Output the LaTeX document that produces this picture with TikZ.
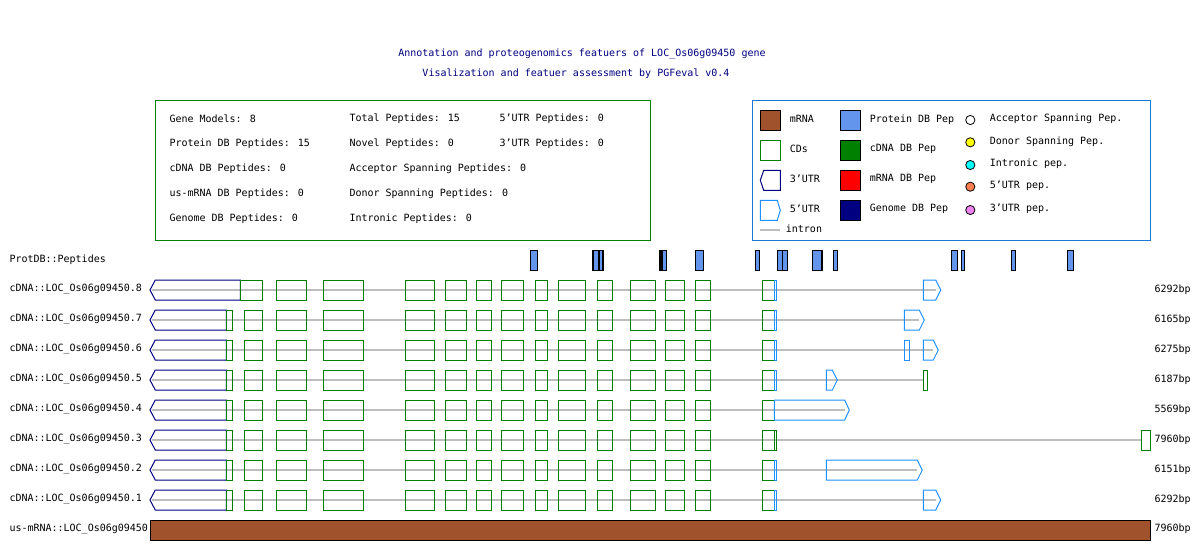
\documentclass[tikz,border=0pt]{standalone}
\usepackage{fontspec}
\setmainfont{DejaVu Sans Mono}
\usetikzlibrary{positioning}
\definecolor{titlenavy}{RGB}{0,0,128}
\definecolor{cdsgreen}{RGB}{0,128,0}
\definecolor{utrnavy}{RGB}{0,0,128}
\definecolor{utrblue}{RGB}{30,144,255}
\definecolor{legendblue}{RGB}{25,120,215}
\definecolor{introngray}{RGB}{190,190,190}
\definecolor{mrnabrown}{RGB}{160,82,45}
\definecolor{pepblue}{RGB}{100,149,237}
\definecolor{pepyellow}{RGB}{255,255,0}
\definecolor{pepcyan}{RGB}{0,255,255}
\definecolor{pepred}{RGB}{255,0,0}
\definecolor{pepcoral}{RGB}{255,127,80}
\definecolor{pepviolet}{RGB}{238,130,238}
% exon shapes: (start, end, row)
\newcommand{\cdsbox}[3]{\draw[cds] (#1,#3-10) rectangle (#2,#3+10);}
\newcommand{\thinutr}[3]{\draw[utrfive] (#1,#3-10) rectangle (#2,#3+10);}
% 3'UTR: tip, left, right, row
\newcommand{\utrL}[4]{\draw[utrthree] (#1,#4) -- (#2,#4-10) -- (#3,#4-10) -- (#3,#4+10) -- (#2,#4+10) -- cycle;}
% 5'UTR: left, right, tip, row
\newcommand{\utrR}[4]{\draw[utrfive] (#1,#4-10) -- (#2,#4-10) -- (#3,#4) -- (#2,#4+10) -- (#1,#4+10) -- cycle;}

\begin{document}
\begin{tikzpicture}[x=1pt,y=-1pt,
  txt/.style={anchor=west, inner sep=0pt, font=\fontsize{10}{12}\selectfont},
  ttl/.style={inner sep=0pt, text=titlenavy, font=\fontsize{10}{12}\selectfont},
  cds/.style={draw=cdsgreen, line width=1pt},
  utrthree/.style={draw=utrnavy, line width=1pt},
  utrfive/.style={draw=utrblue, line width=1pt},
  intron/.style={draw=introngray, line width=2pt},
  pep/.style={draw=black, fill=pepblue, line width=1.2pt},
  swatch/.style={draw=black, line width=1pt},
  dot/.style={draw=black, line width=0.8pt}]
\fill[white] (0,0) rectangle (1200,550);
\useasboundingbox (0,0) rectangle (1200,550);

% Title
\node[ttl] (title1) at (582,54) {Annotation and proteogenomics featuers of LOC\_Os06g09450 gene};
\node[ttl] (title2) at (576,74) {Visalization and featuer assessment by PGFeval v0.4};

% Summary box
\draw[draw=cdsgreen, line width=1pt] (155.3,100.3) rectangle (650.7,240);
\node[txt] (s1) at (169.3,119) {Gene Models: 8};
\node[txt] (s2) at (169.3,144) {Protein DB Peptides: 15};
\node[txt] (s3) at (169.3,169) {cDNA DB Peptides: 0};
\node[txt] (s4) at (169.3,194) {us-mRNA DB Peptides: 0};
\node[txt] (s5) at (169.3,219) {Genome DB Peptides: 0};
\node[txt] (s6) at (349.3,119) {Total Peptides: 15};
\node[txt] (s7) at (349.3,144) {Novel Peptides: 0};
\node[txt] (s8) at (349.3,169) {Acceptor Spanning Peptides: 0};
\node[txt] (s9) at (349.3,194) {Donor Spanning Peptides: 0};
\node[txt] (s10) at (349.3,219) {Intronic Peptides: 0};
\node[txt] (s11) at (499.3,119) {5'UTR Peptides: 0};
\node[txt] (s12) at (499.3,144) {3'UTR Peptides: 0};

% Legend box
\draw[draw=legendblue, line width=1pt] (752.5,100.3) rectangle (1150.7,240);
\filldraw[swatch, fill=mrnabrown] (760.3,110.3) rectangle (780.3,130.3);
\draw[cds] (760.3,140.3) rectangle (780.3,160.3);
\utrL{760.3}{763.7}{780.3}{180.3}
\utrR{760.3}{777.3}{780.3}{210.3}
\draw[intron] (760,229.7) -- (780,229.7);
\node[txt] (l1) at (789.7,119.3) {mRNA};
\node[txt] (l2) at (789.7,149) {CDs};
\node[txt] (l3) at (789.7,179) {3'UTR};
\node[txt] (l4) at (789.7,209) {5'UTR};
\node[txt] (l5) at (785.7,229) {intron};
\foreach \c/\y/\t [count=\i] in {pepblue/120.3/Protein DB Pep, cdsgreen/150.3/cDNA DB Pep, pepred/180.3/mRNA DB Pep, utrnavy/210.3/Genome DB Pep} {
  \filldraw[swatch, fill=\c] (840.3,\y-10) rectangle (860.3,\y+10);
  \node[txt] (m\i) at (869.7,\y-1) {\t};
}
\foreach \c/\y/\t [count=\i] in {white/120/Acceptor Spanning Pep., pepyellow/142.3/Donor Spanning Pep., pepcyan/165/Intronic pep., pepcoral/186.7/5'UTR pep., pepviolet/210/3'UTR pep.} {
  \filldraw[dot, fill=\c] (970.3,\y) circle (4.6pt);
  \node[txt] (d\i) at (989.7,\y-1) {\t};
}

% Peptides
\node[txt] (protdb) at (9.3,259.3) {ProtDB::Peptides};
\foreach \a/\b in {530.3/537.3, 593/599, 599/603, 660/662, 662/666.7, 695.3/703.3, 755.3/759.5, 777.3/782.7, 782.7/787.3, 812.7/822, 833.3/837.3, 951.7/957.3, 961.3/964.3, 1011.3/1015.3, 1067.3/1073.3}
  \draw[pep] (\a,250.3) rectangle (\b,270.3);

% Gene models
\foreach \n/\y/\len/\e in {8/290/6292bp/935.7, 7/320/6165bp/919.3, 6/350/6275bp/933.3, 5/380/6187bp/924, 4/410/5569bp/844.7, 3/440/7960bp/1141, 2/470/6151bp/917.3, 1/500/6292bp/935.7} {
  \draw[intron] (152,\y) -- (\e,\y);
  \node[txt] (cdna\n) at (9.3,\y-0.7) {cDNA::LOC\_Os06g09450.\n};
  \node[txt] (bp\n) at (1154.3,\y-0.7) {\len};
  \foreach \a/\b in {276/306, 323.3/363.3, 405.3/434.3, 445.3/466.3, 476.3/491.3, 501.3/523.3, 535.3/547.3, 558.3/585.3, 597.3/612.3, 630.3/655.3, 665.3/684.3, 695.3/710.3, 762.3/774.3}
    {\cdsbox{\a}{\b}{\y}}
}
\utrL{150}{155.3}{240.3}{290}
\cdsbox{240.3}{262.7}{290}
\foreach \y in {320,350,...,500} {
  \utrL{150}{155.3}{226.3}{\y}
  \cdsbox{226.3}{232.3}{\y}
  \cdsbox{244.3}{262.7}{\y}
}
% 3' end of each model
\thinutr{774.3}{776.3}{290} \utrR{923.3}{935.7}{940.7}{290}
\thinutr{774.3}{776.3}{320} \utrR{904.3}{919.3}{924.3}{320}
\thinutr{774.3}{776.3}{350} \thinutr{904.3}{909.3}{350} \utrR{923.3}{933.3}{938.3}{350}
\thinutr{774.3}{776.3}{380} \utrR{826.3}{832.3}{837.3}{380} \cdsbox{923.3}{927.3}{380}
\utrR{774.3}{844.7}{849.3}{410}
\cdsbox{774.3}{776.3}{440} \cdsbox{1141}{1150.3}{440}
\thinutr{774.3}{776.3}{470} \utrR{826.3}{917.3}{922.3}{470}
\thinutr{774.3}{776.3}{500} \utrR{923.3}{935.7}{940.7}{500}

% mRNA
\filldraw[swatch, fill=mrnabrown] (150.7,520.3) rectangle (1150.3,540.3);
\node[txt] (usmrna) at (9.3,529) {us-mRNA::LOC\_Os06g09450};
\node[txt] (bp0) at (1154.3,529) {7960bp};
\end{tikzpicture}
\end{document}
